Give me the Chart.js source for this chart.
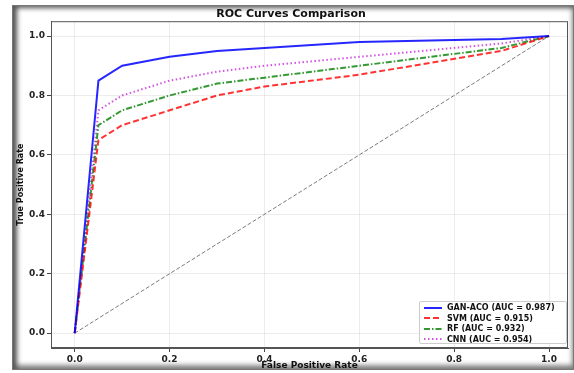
<!DOCTYPE html>
<html>
<head>
<meta charset="utf-8">
<script src="https://cdn.jsdelivr.net/npm/chart.js@4.4.1/dist/chart.umd.min.js"></script>
<style>
  html, body { margin: 0; padding: 0; background: #fff; }
  #wrap { position: relative; width: 574px; height: 373px; overflow: hidden; }
  #frame {
    position: absolute; left: 12px; top: 5px; width: 560px; height: 363px;
    border: 1px solid #777; box-shadow: inset 4px 2px 5px #555, inset -1px -4px 5px #888;
  }
  canvas { position: absolute; left: 0; top: 0; }
  #legend {
    position: absolute; left: 419px; top: 301px; width: 146px; height: 40px;
    border: 1px solid #ccc; border-radius: 2px; background: rgba(255,255,255,0.85);
    font: bold 8px "DejaVu Sans", sans-serif; color: #111; padding-top: 1px;
  }
  #legend div { height: 10.5px; line-height: 10.5px; white-space: nowrap; }
  #legend svg { vertical-align: middle; margin: 0 5px 0 4px; }
</style>
</head>
<body>
<div id="wrap">
  <div id="frame"></div>
  <canvas id="roc" width="574" height="373"></canvas>
  <div id="legend"></div>
</div>
<script>
// false positive rate points shared by all curves
const fpr = [0, 0.05, 0.1, 0.2, 0.3, 0.4, 0.6, 0.9, 1.0];
const tprGanAco = [0, 0.85, 0.90, 0.93, 0.95, 0.96, 0.98, 0.99, 1.0];
const tprSvm    = [0, 0.65, 0.70, 0.75, 0.80, 0.83, 0.87, 0.95, 1.0];
const tprRf     = [0, 0.70, 0.75, 0.80, 0.84, 0.86, 0.90, 0.96, 1.0];
const tprCnn    = [0, 0.75, 0.80, 0.85, 0.88, 0.90, 0.93, 0.975, 1.0];
const chanceX = [0, 1];
const chanceY = [0, 1];
const labels = ["GAN-ACO (AUC = 0.987)", "SVM (AUC = 0.915)", "RF (AUC = 0.932)", "CNN (AUC = 0.954)"];
const tickVals = [0, 0.2, 0.4, 0.6, 0.8, 1.0];

const colors = ["rgba(0,0,255,0.85)", "rgba(255,0,0,0.8)", "rgba(0,128,0,0.8)", "rgba(200,40,220,0.8)"];
const dashes = [[], [6, 3], [6, 2, 1.5, 2], [1.5, 2.5]];
const series = [tprGanAco, tprSvm, tprRf, tprCnn];

function pts(xs, ys) {
  return xs.map((x, i) => ({ x: x, y: ys[i] }));
}

const datasets = series.map((s, i) => ({
  label: labels[i],
  data: pts(fpr, s),
  borderColor: colors[i],
  borderWidth: 2,
  borderDash: dashes[i],
  pointRadius: 0,
  showLine: true,
  tension: 0,
  fill: false
}));
datasets.push({
  label: "chance",
  data: pts(chanceX, chanceY),
  borderColor: "rgba(100,100,100,0.85)",
  borderWidth: 1,
  borderDash: [4, 2],
  pointRadius: 0,
  showLine: true
});

// spines on top and right like matplotlib
const boxPlugin = {
  id: "box",
  afterDraw(chart) {
    const a = chart.chartArea, c = chart.ctx;
    c.save();
    c.strokeStyle = "#555";
    c.lineWidth = 1;
    c.strokeRect(a.left + 0.5, a.top + 0.5, a.right - a.left - 1, a.bottom - a.top - 1);
    c.restore();
  }
};

const tickFont = { family: "DejaVu Sans", size: 9, weight: "bold" };

new Chart(document.getElementById("roc"), {
  type: "scatter",
  data: { datasets: datasets },
  plugins: [boxPlugin],
  options: {
    responsive: false,
    animation: false,
    layout: { padding: { left: 14, right: 6, top: 0, bottom: 2 } },
    plugins: {
      legend: { display: false },
      tooltip: { enabled: false },
      title: {
        display: true,
        text: "ROC Curves Comparison",
        color: "#111",
        font: { family: "DejaVu Sans", size: 11, weight: "bold" },
        padding: { top: 8, bottom: 0 }
      }
    },
    scales: {
      x: {
        type: "linear",
        min: -0.05, max: 1.04,
        afterBuildTicks: (s) => { s.ticks = tickVals.map(v => ({ value: v })); },
        afterFit: (s) => { s.height = 23; },
        ticks: { font: tickFont, color: "#222", padding: 2, callback: v => v.toFixed(1) },
        grid: { color: "rgba(0,0,0,0.07)", tickColor: "#444", tickLength: 4 },
        border: { color: "#555" },
        title: { display: true, text: "False Positive Rate", color: "#111",
                 font: { family: "DejaVu Sans", size: 9, weight: "bold" }, padding: { top: 0, bottom: 0 } }
      },
      y: {
        type: "linear",
        min: -0.05, max: 1.05,
        afterBuildTicks: (s) => { s.ticks = tickVals.map(v => ({ value: v })); },
        afterFit: (s) => { s.width = 37; },
        ticks: { font: tickFont, color: "#222", padding: 2, callback: v => v.toFixed(1) },
        grid: { color: "rgba(0,0,0,0.07)", tickColor: "#444", tickLength: 4 },
        border: { color: "#555" },
        title: { display: true, text: "True Positive Rate", color: "#111",
                 font: { family: "DejaVu Sans", size: 8, weight: "bold" }, padding: { top: 2, bottom: 0 } }
      }
    }
  }
});

// legend box inside the plot, bottom right
const leg = document.getElementById("legend");
labels.forEach((lab, i) => {
  const row = document.createElement("div");
  const d = dashes[i].length ? ' stroke-dasharray="' + dashes[i].join(",") + '"' : "";
  row.innerHTML = '<svg width="18" height="4"><line x1="0" y1="2" x2="18" y2="2" stroke="' +
    colors[i] + '" stroke-width="2"' + d + '/></svg>' + lab;
  leg.appendChild(row);
});
</script>
</body>
</html>
